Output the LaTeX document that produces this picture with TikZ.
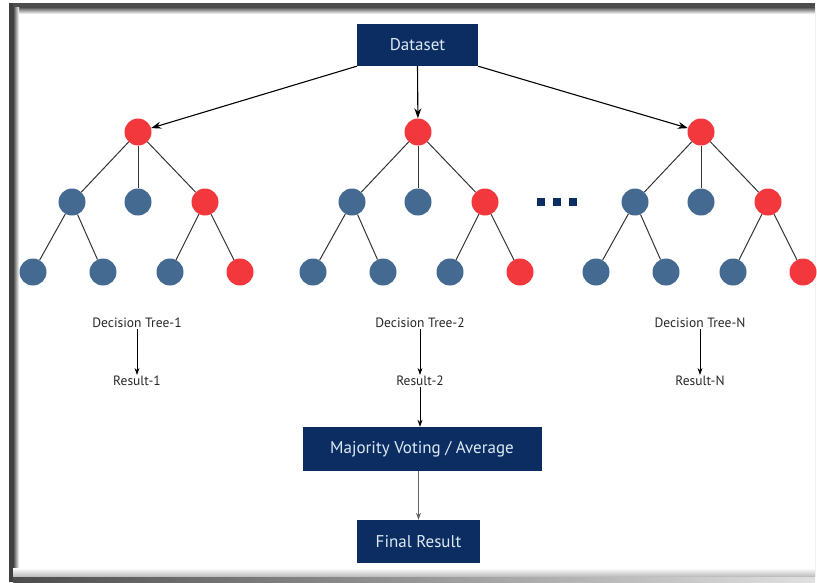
\documentclass[tikz,border=0pt]{standalone}
\usepackage{fontspec}
\setmainfont{PT Sans}
\usetikzlibrary{arrows.meta}
\definecolor{navy}{HTML}{0B2D62}
\definecolor{leafblue}{HTML}{456A92}
\definecolor{nodered}{HTML}{F2383C}
\definecolor{boxtext}{HTML}{DCEAF6}
\begin{document}
\begin{tikzpicture}[x=1pt,y=-1pt,
  box/.style={fill=navy, text=boxtext, inner sep=0pt, font=\fontsize{17}{20}\selectfont},
  rednode/.style={circle, fill=nodered, minimum size=27pt, inner sep=0pt},
  bluenode/.style={circle, fill=leafblue, minimum size=27pt, inner sep=0pt},
  branch/.style={draw=black!80, line width=1pt},
  feed/.style={-{Stealth[length=10pt,width=7pt]}, line width=1.1pt},
  lbl/.style={font=\fontsize{13.5}{16}\selectfont, text=black!85, inner sep=1pt},
  down/.style={-{Stealth[length=7pt,width=5pt]}, line width=0.8pt},
  dot/.style={fill=navy, minimum size=8pt, inner sep=0pt}
]
\useasboundingbox (0,0) rectangle (817,582);
% shadowed frame
\fill[black!70] (9,3) rectangle (815,7);
\shade[top color=black!70, bottom color=white] (9,7) rectangle (815,14);
\fill[black!75] (9,3) rectangle (13,582);
\shade[left color=black!75, right color=white] (13,7) rectangle (19,577);
\shade[left color=black!70, right color=black!12] (13,576) rectangle (815,582);
\shade[top color=white, bottom color=black!25] (13,568) rectangle (815,576);
\draw[black!6, line width=0.8pt] (815.5,7) -- (815.5,577);

% top box
\node[box, minimum width=121pt, minimum height=42pt] (ds) at (417.5,45) {Dataset};

% three trees
\foreach \p/\cx in {a/138, b/418, n/701} {
  \node[rednode]  (\p r)  at (\cx,132) {};
  \node[bluenode] (\p l)  at (\cx-66,202) {};
  \node[bluenode] (\p m)  at (\cx,202) {};
  \node[rednode]  (\p q)  at (\cx+67,202) {};
  \node[bluenode] (\p x1) at (\cx-105,272) {};
  \node[bluenode] (\p x2) at (\cx-35,272) {};
  \node[bluenode] (\p x3) at (\cx+32,272) {};
  \node[rednode]  (\p x4) at (\cx+102,272) {};
  \draw[branch] (\p r) -- (\p l);
  \draw[branch] (\p r) -- (\p m);
  \draw[branch] (\p r) -- (\p q);
  \draw[branch] (\p l) -- (\p x1);
  \draw[branch] (\p l) -- (\p x2);
  \draw[branch] (\p q) -- (\p x3);
  \draw[branch] (\p q) -- (\p x4);
}

% dataset feeds every tree
\draw[feed] (ds.south west) -- (ar);
\draw[feed] (ds.south) -- (br);
\draw[feed] (ds.south east) -- (nr);

% ellipsis between trees
\node[dot] (d1) at (541,202) {};
\node[dot] (d2) at (557,202) {};
\node[dot] (d3) at (573,202) {};

% tree labels and results
\node[lbl] (dt1) at (137,323) {Decision Tree-1};
\node[lbl] (dt2) at (420,323) {Decision Tree-2};
\node[lbl] (dtn) at (700,323) {Decision Tree-N};
\node[lbl] (rs1) at (137,381) {Result-1};
\node[lbl] (rs2) at (420,381) {Result-2};
\node[lbl] (rsn) at (700,381) {Result-N};
\draw[down] (dt1) -- (rs1);
\draw[down] (dt2) -- (rs2);
\draw[down] (dtn) -- (rsn);

% aggregation
\node[box, minimum width=239pt, minimum height=44pt] (mv) at (422,449) {Majority Voting / Average};
\node[box, minimum width=123pt, minimum height=43pt] (fr) at (418.5,541.5) {Final Result};
\draw[down] (rs2) -- (mv.north -| rs2);
\draw[down, black!60] (mv.south -| fr) -- (fr);
\end{tikzpicture}
\end{document}
